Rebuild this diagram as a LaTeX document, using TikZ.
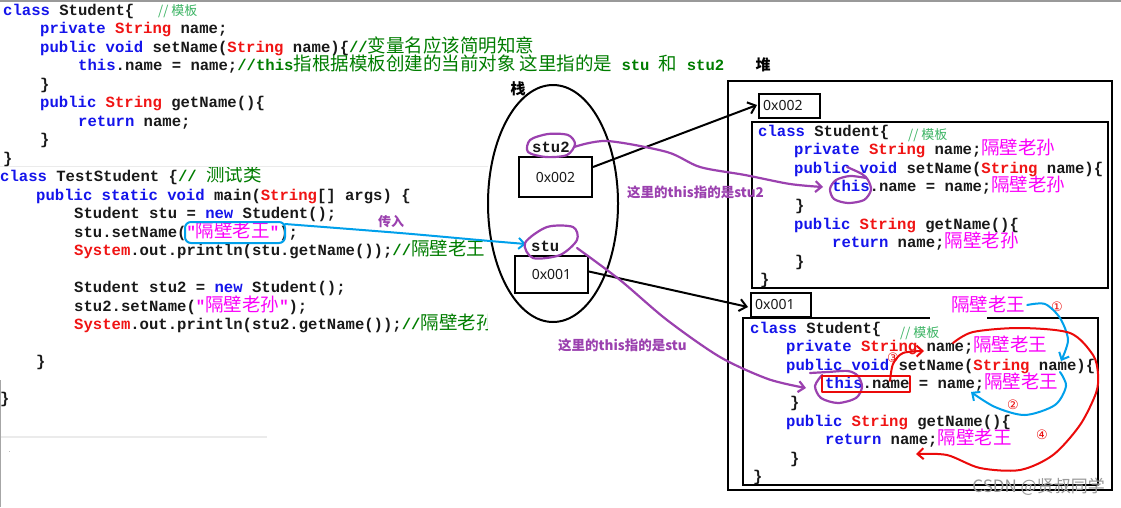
\documentclass[tikz,border=0pt]{standalone}
\usepackage{fontspec}
\setmainfont{Liberation Serif}
\setsansfont{Noto Sans}
\setmonofont{Liberation Mono}
\newfontfamily\cjk{Noto Sans CJK SC}
\newfontfamily\circfont{DejaVu Sans}
\usetikzlibrary{shapes.geometric,arrows.meta,calc}
\definecolor{kwblue}{RGB}{20,20,235}
\definecolor{tyred}{RGB}{240,20,20}
\definecolor{strmag}{RGB}{250,0,250}
\definecolor{cmgreen}{RGB}{0,125,0}
\definecolor{cmlight}{RGB}{60,180,100}
\definecolor{codeblack}{RGB}{25,25,25}
\definecolor{purp}{RGB}{155,65,175}
\definecolor{bluepen}{RGB}{0,160,235}
\definecolor{redpen}{RGB}{235,10,10}
\newcommand\zhs[1]{{\cjk\mdseries\fontsize{18.5}{18.5}\selectfont #1}}
\newcommand\kwd[1]{\textcolor{kwblue}{#1}}
\newcommand\typ[1]{\textcolor{tyred}{#1}}
\newcommand\strg[1]{\textcolor{strmag}{#1}}
\newcommand\cmt[1]{\textcolor{cmgreen}{#1}}
\tikzset{
  code/.style={inner sep=0pt, anchor=base west, text=codeblack,
    font=\ttfamily\bfseries\fontsize{15.6}{18}\selectfont},
  lightcm/.style={inner sep=0pt, anchor=base west, text=cmlight,
    font=\cjk\fontsize{13}{13}\selectfont},
  zhlabel/.style={inner sep=0pt, text=black, font=\cjk\bfseries\fontsize{15}{15}\selectfont},
  purlabel/.style={inner sep=0pt, anchor=west, text=purp, font=\cjk\bfseries\fontsize{13.5}{13.5}\selectfont},
  addrbox/.style={draw=black, line width=2pt, inner sep=0pt},
  addrtxt/.style={inner sep=0pt, text=codeblack, font=\sffamily\fontsize{14}{14}\selectfont},
  heapbox/.style={draw=black, line width=2pt},
  purpen/.style={draw=purp, line width=2.2pt, line cap=round, line join=round},
  bluepenst/.style={draw=bluepen, line width=2pt, line cap=round, line join=round},
  redpenst/.style={draw=redpen, line width=2pt, line cap=round, line join=round},
  pentip/.style={-{Straight Barb[length=6pt,width=11pt]}},
  blacktip/.style={-{Straight Barb[length=7pt,width=12pt]}},
  circnum/.style={inner sep=0pt, text=redpen, font=\circfont\fontsize{13}{13}\selectfont},
  strlab/.style={inner sep=0pt, text=strmag, font=\cjk\fontsize{18.5}{18.5}\selectfont}
}
\begin{document}
\begin{tikzpicture}[x=1pt,y=-1pt]
\useasboundingbox (0,0) rectangle (1121,507);
\fill[white] (0,0) rectangle (1121,507);
% screenshot border lines
\draw[black!40, line width=1.5pt] (0,0.75) -- (1121,0.75);
\draw[black!8, line width=1pt] (0,166) -- (488,166);
\draw[black!8, line width=1.5pt] (0,437) -- (267,437);
\draw[black!35, line width=1.2pt] (0.6,380) -- (0.6,507);
\fill[black!25] (8.5,450.5) rectangle (9.5,451.5);

% ---------- class Student (left) ----------
\node[code] (a0) at (3,15) {\kwd{class} Student\{};
\node[lightcm] (a0c) at (158,15) {// 模板};
\node[code] (a1) at (40,33.5) {\kwd{private} \typ{String} name;};
\node[code] (a2) at (40,52) {\kwd{public} \kwd{void} setName(\typ{String} name)\{\cmt{//\zhs{变量名应该简明知意}}};
\node[code] (a3) at (78,70.5) {\kwd{this}.name = name;\cmt{//this\zhs{指根据模板创建的当前对象 这里指的是} stu \zhs{和} stu2}};
\node[zhlabel] (heaplbl) at (763,65) {堆};
\node[code] (a4) at (40,89) {\}};
\node[code] (a5) at (40,107.5) {\kwd{public} \typ{String} getName()\{};
\node[code] (a6) at (78,126) {\kwd{return} name;};
\node[code] (a7) at (40,144.5) {\}};
\node[code] (a8) at (3,163) {\}};

% ---------- class TestStudent ----------
\begin{scope}
\clip (0,167) rectangle (487,507);
\node[code] (b0) at (0,181.5) {\kwd{class} TestStudent \{\cmt{// \zhs{测试类}}};
\node[code] (b1) at (36,200) {\kwd{public} \kwd{static} \kwd{void} main(\typ{String}[] args) \{};
\node[code] (b2) at (74,218.5) {Student stu = \kwd{new} Student();};
\node[code] (b3) at (74,237) {stu.setName(\strg{"\zhs{隔壁老王}"});};
\node[code] (b4) at (74,255.5) {\typ{System}.out.println(stu.getName());\cmt{//\zhs{隔壁老王}}};
\node[code] (b5) at (74,292.5) {Student stu2 = \kwd{new} Student();};
\node[code] (b6) at (74,311) {stu2.setName(\strg{"\zhs{隔壁老孙}"});};
\node[code] (b7) at (74,329.5) {\typ{System}.out.println(stu2.getName());\cmt{//\zhs{隔壁老孙}}};
\node[code] (b8) at (36,366.5) {\}};
\node[code] (b9) at (0,403.5) {\}};
\end{scope}

% ---------- stack ----------
\node[draw=black, line width=2pt, ellipse, minimum width=130pt, minimum height=237pt, inner sep=0pt] (stack) at (553,203.5) {};
\node[zhlabel] (stacklbl) at (518,89) {栈};
\node[code] (stu2lbl) at (532,152) {stu2};
\node[addrbox, minimum width=73pt, minimum height=40pt] (s2) at (555.5,177) {};
\node[addrtxt] (s2t) at (555.5,177) {0x002};
\node[code] (stulbl) at (531,251) {stu};
\node[addrbox, minimum width=73pt, minimum height=37pt] (s1) at (551.5,274.5) {};
\node[addrtxt] (s1t) at (551.5,274.5) {0x001};

% ---------- heap ----------
\draw[black, line width=2.4pt] (728,81) rectangle (1112,490);
\node[addrbox, minimum width=61pt, minimum height=24pt, anchor=north west] (h2) at (758,93) {};
\node[addrtxt, anchor=west] (h2t) at (763,105) {0x002};
\draw[heapbox] (752,122) rectangle (1108,288);
\node[addrbox, minimum width=60pt, minimum height=24pt, anchor=north west] (h1) at (750,292) {};
\node[addrtxt, anchor=west] (h1t) at (755,304) {0x001};
\draw[heapbox] (743,318) rectangle (1098,485);
\fill[white] (930,316.5) rectangle (987,319.6);

% heap object 0x002
\node[code] (c0) at (758,136) {\kwd{class} Student\{};
\node[lightcm] (c0c) at (908,139) {// 模板};
\node[code] (c1) at (794,154.6) {\kwd{private} \typ{String} name;\strg{\zhs{隔壁老孙}}};
\node[code] (c2) at (794,173.2) {\kwd{public} \kwd{void} setName(\typ{String} name)\{};
\node[code] (c3) at (832,191.8) {\kwd{this}.name = name;\strg{\zhs{隔壁老孙}}};
\node[code] (c4) at (795,210.4) {\}};
\node[code] (c5) at (794,229) {\kwd{public} \typ{String} getName()\{};
\node[code] (c6) at (832,247.6) {\kwd{return} name;\strg{\zhs{隔壁老孙}}};
\node[code] (c7) at (795,266.2) {\}};
\node[code] (c8) at (760,284.8) {\}};

% heap object 0x001
\node[code] (d0) at (750,333) {\kwd{class} Student\{};
\node[lightcm] (d0c) at (900,337) {// 模板};
\node[code] (d1) at (786,351.6) {\kwd{private} \typ{String} name;\strg{\zhs{隔壁老王}}};
\node[code] (d2) at (786,370.2) {\kwd{public} \kwd{void} setName(\typ{String} name)\{};
\node[code] (d3) at (825,388.8) {\kwd{this}.name = name;\strg{\zhs{隔壁老王}}};
\node[code] (d4) at (790,407.4) {\}};
\node[code] (d5) at (786,426) {\kwd{public} \typ{String} getName()\{};
\node[code] (d6) at (825,444.6) {\kwd{return} name;\strg{\zhs{隔壁老王}}};
\node[code] (d7) at (790,463.2) {\}};
\node[code] (d8) at (753,481.8) {\}};

% ---------- stack -> heap arrows ----------
\draw[black, line width=2pt, blacktip] ($(s2.east)+(0,-10)$) -- ($(h2.west)+(-1,-1)$);
\draw[black, line width=2pt, blacktip] ($(s1.east)+(0,-3)$) -- ($(h1.west)+(-2,2)$);

% ---------- blue: argument passed ----------
\draw[bluepenst, rounded corners=6pt] (185,222) rectangle (285,243);
\coordinate (bstart) at (285,224);
\draw[bluepenst, pentip] plot[smooth] coordinates {(bstart) (400,233) (490,241) (526,244)};
\node[inner sep=0pt, text=purp, font=\cjk\bfseries\fontsize{13}{13}\selectfont] (chuanru) at (391,222) {传入};

% ---------- purple: this refers to stu2 ----------
\draw[purpen] plot[smooth cycle] coordinates {(530,140) (548,134) (568,135) (575,144) (567,155) (546,157) (528,152)};
\draw[purpen, pentip] plot[smooth] coordinates {(574,147) (607,141) (667,152) (700,167) (745,175) (790,184) (823,187)};
\draw[purpen] plot[smooth] coordinates {(847,167) (862,174) (868,180) (871,190) (864,200) (848,203) (834,199) (830,189) (836,180) (850,176) (866,178)};
\node[purlabel] (lbl2) at (627,192) {这里的this指的是stu2};

% ---------- purple: this refers to stu ----------
\draw[purpen] plot[smooth cycle] coordinates {(573,227) (547,227) (525,243) (533,258) (560,255) (577,240)};
\draw[purpen, pentip] plot[smooth] coordinates {(577,248) (620,280) (667,320) (720,357) (768,379) (806,388)};
\draw[purpen] plot[smooth] coordinates {(810,373) (828,372) (848,371) (858,376) (862,387) (856,398) (838,403) (821,398) (815,386) (822,375)};
\node[purlabel] (lbl1) at (558,345) {这里的this指的是stu};

% ---------- red / blue annotations in object 0x001 ----------
\node[strlab] (wanglbl) at (988,304) {隔壁老王};
\node[circnum] (n1) at (1057,307) {①};
\node[circnum] (n2) at (1013,405) {②};
\node[circnum] (n3) at (893,358) {③};
\node[circnum] (n4) at (1042,435) {④};
\draw[bluepenst, pentip] plot[smooth] coordinates {($(wanglbl.east)+(2,1)$) (1045,304) (1060,318) (1068,340) (1061,361)};
\draw[bluepenst, pentip] plot[smooth] coordinates {(1060,372) (1066,386) (1055,405) (1025,415) (995,407) (971,392)};
\draw[redpenst] (822,376) rectangle (910,392);
\draw[redpenst, pentip] plot[smooth] coordinates {(890,381) (893,364) (903,353) (924,351)};
\draw[redpenst, pentip] plot[smooth] coordinates {(953,343) (973,332) (1020,328) (1070,333) (1093,355) (1098,374) (1096,393) (1080,425) (1053,455) (1020,470) (980,468) (947,455) (916,454)};

% ---------- watermark ----------
\node[inner sep=0pt, anchor=east, text=black!40, font=\cjk\fontsize{17}{17}\selectfont] (wm) at (1105,487) {CSDN @贤叔同学};
\end{tikzpicture}
\end{document}
